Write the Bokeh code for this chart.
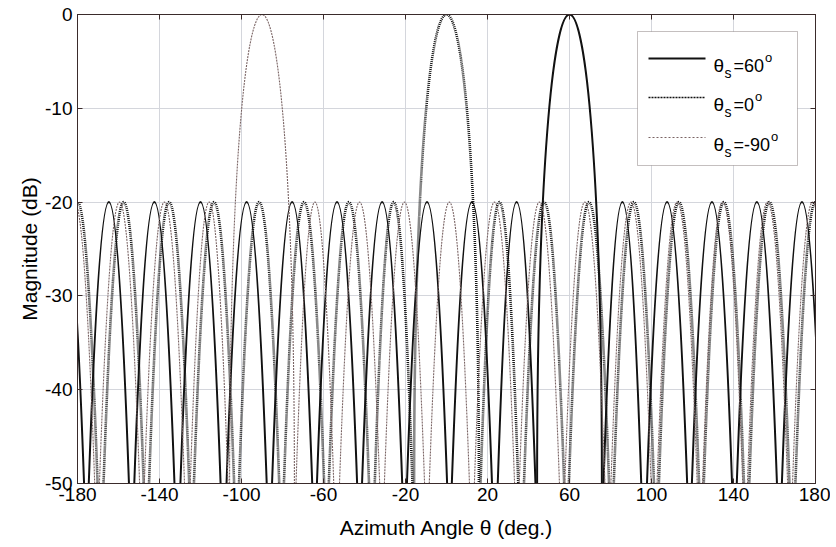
from bokeh.plotting import figure
from bokeh.models import (ColumnDataSource, Range1d, FixedTicker, LinearAxis,
                          BoxAnnotation, Label, Arrow)
from bokeh.embed import file_html
from bokeh.resources import INLINE

# ---------------- data ----------------
x_ticks = [-180, -140, -100, -60, -20, 20, 60, 100, 140, 180]
y_ticks = [-50, -40, -30, -20, -10, 0]
FLOOR = -50  # bottom of the magnitude axis (dB)

# theta_s = 60 deg : lobe peak angle (deg), peak level (dB), half width at -50 dB (deg)
s60_peak = [-186.6, -164.7, -142.5, -120.0, -97.5, -75.3, -53.4, -31.4, -9.5,
            12.4, 34.2, 60.0, 85.8, 107.6, 129.5, 151.4, 173.4]
s60_level = [-20, -20, -20, -20, -20, -20, -20, -20, -20,
             -20, -20, 0, -20, -20, -20, -20, -20]
s60_half = [9.8, 9.8, 9.8, 9.8, 9.8, 9.8, 9.8, 9.8, 9.8,
            9.8, 9.2, 15.8, 9.2, 9.8, 9.8, 9.8, 9.8]

# theta_s = 0 deg
s0_peak = [-180.0, -157.5, -135.3, -113.4, -91.4, -69.5, -47.6, -25.8, 0.0,
           25.8, 47.6, 69.5, 91.4, 113.4, 135.3, 157.5, 180.0]
s0_level = [-20, -20, -20, -20, -20, -20, -20, -20, 0,
            -20, -20, -20, -20, -20, -20, -20, -20]
s0_half = [9.8, 9.8, 9.8, 9.8, 9.8, 9.8, 9.8, 9.2, 15.8,
           9.2, 9.8, 9.8, 9.8, 9.8, 9.8, 9.8, 9.8]

# theta_s = -90 deg
sm90_peak = [-181.4, -159.5, -137.6, -115.8, -90.0, -64.2, -42.4, -20.5, 1.4,
             23.4, 45.3, 67.5, 90.0, 112.5, 134.7, 156.6, 178.6]
sm90_level = [-20, -20, -20, -20, 0, -20, -20, -20, -20,
              -20, -20, -20, -20, -20, -20, -20, -20]
sm90_half = [9.8, 9.8, 9.8, 9.2, 15.8, 9.2, 9.8, 9.8, 9.8,
             9.8, 9.8, 9.8, 9.8, 9.8, 9.8, 9.8, 9.8]

legend_values = ["60", "0", "-90"]   # theta_s in the legend

# ---------------- figure ----------------
FONT = "Liberation Sans"
EDGE = "#3a2b2b"
W, H = 830, 541
FL, FR, FT, FB = 77, 815, 14, 487   # frame edges on the page

p = figure(width=W, height=H, output_backend="svg", toolbar_location=None,
           x_range=Range1d(-180, 180), y_range=Range1d(FLOOR, 0),
           min_border_left=FL, min_border_right=W - FR, min_border_top=FT,
           min_border_bottom=H - FB)
p.background_fill_color = "white"
p.border_fill_color = "white"
p.outline_line_color = EDGE
p.outline_line_width = 1

xa = p.xaxis[0]
ya = p.yaxis[0]
xa.ticker = FixedTicker(ticks=x_ticks)
ya.ticker = FixedTicker(ticks=y_ticks)
xa.major_label_overrides = {t: str(t) for t in x_ticks}
ya.major_label_overrides = {t: str(t) for t in y_ticks}
for ax in (xa, ya):
    ax.major_tick_in = 5
    ax.major_tick_out = 0
    ax.minor_tick_line_color = None
    ax.axis_line_color = EDGE
    ax.major_tick_line_color = EDGE
    ax.major_label_text_font = FONT
    ax.major_label_text_font_size = "19px"
    ax.major_label_text_color = "black"
    ax.axis_label_text_font = FONT
    ax.axis_label_text_font_size = "21px"
    ax.axis_label_text_font_style = "normal"
    ax.axis_label_text_color = "black"
xa.axis_label = "Azimuth Angle \u03b8 (deg.)"
ya.axis_label = "Magnitude (dB)"
xa.major_label_standoff = 4
xa.axis_label_standoff = 12
ya.major_label_standoff = 5
ya.axis_label_standoff = 1

for loc, tk in (("above", x_ticks), ("right", y_ticks)):
    ax = LinearAxis(ticker=FixedTicker(ticks=tk), major_label_text_font_size="0px",
                    major_label_text_color=None,
                    major_tick_in=5, major_tick_out=0, minor_tick_line_color=None,
                    major_label_standoff=0, axis_line_color=EDGE,
                    major_tick_line_color=EDGE)
    p.add_layout(ax, loc)

p.xgrid.ticker = FixedTicker(ticks=x_ticks)
p.ygrid.ticker = FixedTicker(ticks=y_ticks)
p.xgrid.grid_line_color = "#d4d6dc"
p.ygrid.grid_line_color = "#d4d6dc"


def lobe_sources(peaks, levels, halves):
    main = dict(x0=[], y0=[], x1=[], y1=[], cx0=[], cy0=[], cx1=[], cy1=[])
    side = dict(x0=[], y0=[], x1=[], y1=[], cx=[], cy=[])
    for pk, lv, h in zip(peaks, levels, halves):
        if lv > -10:
            # steep-sided main beam: cubic with vertical end tangents
            cy = (lv - FLOOR / 4.0) / 0.75
            main["x0"].append(pk - h); main["y0"].append(FLOOR)
            main["x1"].append(pk + h); main["y1"].append(FLOOR)
            main["cx0"].append(pk - h); main["cy0"].append(cy)
            main["cx1"].append(pk + h); main["cy1"].append(cy)
        else:
            # side lobe: parabola in dB through the peak
            side["x0"].append(pk - h); side["y0"].append(FLOOR)
            side["x1"].append(pk + h); side["y1"].append(FLOOR)
            side["cx"].append(pk); side["cy"].append(2 * lv - FLOOR)
    return ColumnDataSource(main), ColumnDataSource(side)


styles = [
    dict(line_color="#111111", line_width=2.0),
    dict(line_color="#151515", line_width=2.6, line_dash="1 1"),
    dict(line_color="#7a6464", line_width=1.1, line_dash="2 1"),
]
legend_styles = [
    dict(line_color="#111111", line_width=2.0),
    dict(line_color="#111111", line_width=1.6, line_dash="2 1"),
    dict(line_color="#7a6464", line_width=1.1, line_dash="2 2"),
]
data = [(s60_peak, s60_level, s60_half),
        (s0_peak, s0_level, s0_half),
        (sm90_peak, sm90_level, sm90_half)]

for (pk, lv, hw), st in zip(data, styles):
    msrc, ssrc = lobe_sources(pk, lv, hw)
    p.quadratic(x0="x0", y0="y0", x1="x1", y1="y1", cx="cx", cy="cy",
                source=ssrc, **st)
    p.bezier(x0="x0", y0="y0", x1="x1", y1="y1", cx0="cx0", cy0="cy0",
             cx1="cx1", cy1="cy1", source=msrc, **st)

# ---------------- legend (drawn by hand, screen units from frame bottom-left) ----
p.add_layout(BoxAnnotation(left=637 - FL, right=797 - FL, top=FB - 35,
                           bottom=FB - 169, left_units="screen",
                           right_units="screen", top_units="screen",
                           bottom_units="screen", fill_color="white",
                           fill_alpha=1.0, line_color=EDGE, line_width=1,
                           level="overlay"))

CHAR_EM = {"=": 0.584, "-": 0.333, "0": 0.556, "6": 0.556, "9": 0.556}
row_y = [FB - 62, FB - 101, FB - 141]
for val, st, yy in zip(legend_values, legend_styles, row_y):
    x_line0 = 648 - FL
    p.add_layout(Arrow(end=None, x_start=x_line0, y_start=yy, x_end=x_line0 + 57,
                       y_end=yy, start_units="screen", end_units="screen",
                       level="overlay", **st))
    xt = 713 - FL
    common = dict(x_units="screen", y_units="screen", text_font=FONT,
                  text_color="black", text_baseline="alphabetic", level="overlay")
    p.add_layout(Label(x=xt, y=yy - 7, text="\u03b8", text_font_size="19px", **common))
    p.add_layout(Label(x=xt + 11, y=yy - 14, text="s", text_font_size="14px", **common))
    txt = "=" + val
    p.add_layout(Label(x=xt + 20, y=yy - 7, text=txt, text_font_size="18px", **common))
    wd = sum(CHAR_EM[c] for c in txt) * 18
    p.add_layout(Label(x=xt + 21 + wd, y=yy + 1, text="o", text_font_size="13px", **common))

open("out.html", "w").write(file_html(p, INLINE))
